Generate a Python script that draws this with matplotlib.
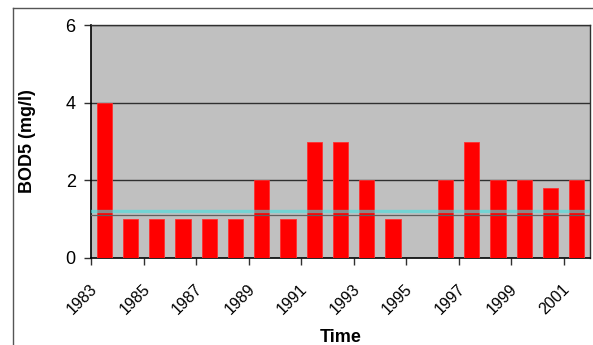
import numpy as np
import matplotlib
matplotlib.use("Agg")
import matplotlib.pyplot as plt
from matplotlib.lines import Line2D
from matplotlib.transforms import ScaledTranslation

plt.rcParams['font.family'] = ['Liberation Sans', 'DejaVu Sans']

years = [1983, 1984, 1985, 1986, 1987, 1988, 1989, 1990, 1991, 1992,
         1993, 1994, 1995, 1996, 1997, 1998, 1999, 2000, 2001]
bod5 = [4, 1, 1, 1, 1, 1, 2, 1, 3, 3,
        2, 1, np.nan, 2, 3, 2, 2, 1.8, 2]
reference_cyan = 1.22
reference_gray = 1.12
y_ticks = [0, 2, 4, 6]
label_years = [y for y in years if (y - 1983) % 2 == 0]

fig = plt.figure(figsize=(5.93, 3.45), dpi=100)
ax = fig.add_axes([91/593, 1 - 258/345, (590 - 91)/593, (258 - 25)/345])
ax.set_facecolor('#C0C0C0')

x = np.arange(len(years))
ax.bar(x, bod5, width=0.58, color='#FF0000', edgecolor='#FF3030',
       linewidth=0.6, zorder=3)

for yv in y_ticks[1:]:
    ax.axhline(yv, color='#303030', lw=1.0, zorder=1)

ax.axhline(reference_cyan, color='#40E0E0', lw=2.4, alpha=0.6, zorder=4)
ax.axhline(reference_gray, color='#606060', lw=0.9, zorder=4)

ax.set_xlim(-0.5, len(years) - 0.5)
ax.set_ylim(0, 6)
ax.set_yticks(y_ticks)
ax.set_yticklabels([str(v) for v in y_ticks], fontsize=13)
ax.tick_params(axis='y', length=5, width=1, pad=6, color='#303030')

idx_labels = [years.index(y) for y in label_years]
ax.set_xticks([i - 0.5 for i in idx_labels])
ax.set_xticklabels([])
ax.tick_params(axis='x', which='major', length=5, width=1, direction='out',
               color='#303030')
ax.set_xticks(idx_labels, minor=True)
ax.set_xticklabels([str(y) for y in label_years], minor=True, fontsize=11.5,
                   rotation=45, ha='right', va='top')
ax.tick_params(axis='x', which='minor', length=0, pad=17)
off = ScaledTranslation(-4/100, 0, fig.dpi_scale_trans)
for lab in ax.get_xticklabels(minor=True):
    lab.set_transform(lab.get_transform() + off)

for s in ['left', 'bottom']:
    ax.spines[s].set_color('black')
    ax.spines[s].set_linewidth(1.2)
for s in ['top', 'right']:
    ax.spines[s].set_color('#303030')
    ax.spines[s].set_linewidth(1.0)

ax.set_ylabel('BOD5 (mg/l)', fontsize=13, fontweight='bold')
ax.yaxis.set_label_coords(-(91 - 28)/499, 0.5)
ax.set_xlabel('Time', fontsize=13, fontweight='bold')
ax.xaxis.set_label_coords(0.5, -(338 - 258)/233)
ax.xaxis.label.set_va('center')
ax.yaxis.label.set_va('center')

fig.add_artist(Line2D([13/593, 1.0], [1 - 7.5/345, 1 - 7.5/345],
                      transform=fig.transFigure, color='#555555', lw=1))
fig.add_artist(Line2D([13/593, 13/593], [0, 1 - 7.5/345],
                      transform=fig.transFigure, color='#555555', lw=1))

fig.savefig('out.png', dpi=100, facecolor='white')
